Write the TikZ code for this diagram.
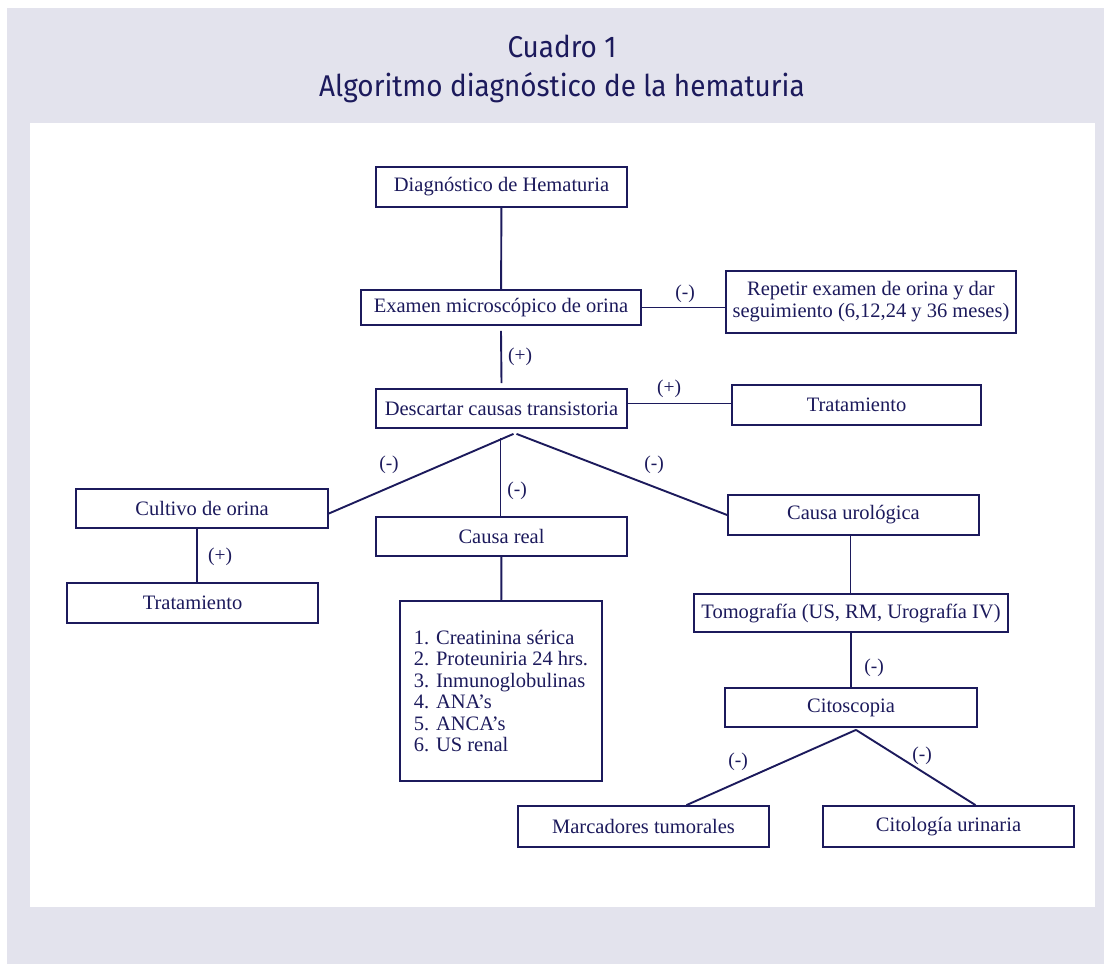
\documentclass[tikz,border=0pt]{standalone}
\usepackage{fontspec}
\setmainfont{Liberation Serif}
\newfontfamily\titlefont[FakeStretch=0.93]{Fira Sans}
\definecolor{navy}{RGB}{28,26,92}
\definecolor{panel}{RGB}{227,227,237}
\begin{document}
\begin{tikzpicture}[x=1pt,y=-1pt,
  box/.style={draw=navy, line width=1.8pt, text=navy, font=\fontsize{20.5}{22}\selectfont, inner sep=0pt, align=center},
  conn/.style={draw=navy, line width=1.9pt},
  lbl/.style={text=navy, font=\fontsize{19.5}{21}\selectfont, inner sep=0pt},
  ttl/.style={text=navy, font=\titlefont\fontsize{30}{34}\selectfont, inner sep=0pt, anchor=base}]
\useasboundingbox (0,0) rectangle (1104,965);
\fill[white] (0,0) rectangle (1104,965);
\fill[panel] (7,8) rectangle (1104,964);
\fill[white] (30,123) rectangle (1095,907);

\node[ttl] (t1) at (562,58) {Cuadro 1};
\node[ttl] (t2) at (562,97) {Algoritmo diagnóstico de la hematuria};

\node[box, minimum width=251, minimum height=40] (diag) at (501.5,187) {Diagnóstico de Hematuria};
\node[box, minimum width=280, minimum height=35] (exam) at (501,307.5) {Examen microscópico de orina};
\node[box, minimum width=290, minimum height=62] (rep) at (871,302) {Repetir examen de orina y dar\\seguimiento (6,12,24 y 36 meses)};
\node[box, minimum width=251, minimum height=39] (desc) at (501.5,408.5) {Descartar causas transistoria};
\node[box, minimum width=249, minimum height=40] (trat1) at (856.5,405) {Tratamiento};
\node[box, minimum width=252, minimum height=39] (cult) at (202,508.5) {Cultivo de orina};
\node[box, minimum width=251, minimum height=39] (real) at (501.5,536.5) {Causa real};
\node[box, minimum width=251, minimum height=40] (trat2) at (192.5,603) {Tratamiento};
\node[box, minimum width=202, minimum height=180, font=\fontsize{20.5}{21.5}\selectfont, align=left] (list) at (501,691) {1. Creatinina sérica\\2. Proteuniria 24 hrs.\\3. Inmunoglobulinas\\4. ANA’s\\5. ANCA’s\\6. US renal};
\node[box, minimum width=251, minimum height=40] (curo) at (853.5,515) {Causa urológica};
\node[box, minimum width=314, minimum height=38] (tomo) at (851,613) {Tomografía (US, RM, Urografía IV)};
\node[box, minimum width=252, minimum height=39] (cito) at (851,707.5) {Citoscopia};
\node[box, minimum width=251, minimum height=41] (marc) at (643.5,826.5) {Marcadores tumorales};
\node[box, minimum width=251, minimum height=41] (citu) at (948.5,826.5) {Citología urinaria};

\draw[conn] (diag) -- (exam);
\draw[conn] (exam.east) -- (exam.east -| rep.west);
\draw[conn] ([yshift=-5pt]exam.south) -- ([yshift=5pt]desc.north);
\draw[conn] ([yshift=5pt]desc.east) -- ([yshift=5pt]desc.east -| trat1.west);
\coordinate (dap) at ([xshift=12pt,yshift=-5pt]desc.south);
\draw[conn] (dap) -- ([yshift=-5pt]cult.east);
\draw[conn] ([xshift=3pt]dap) -- (curo.west);
\draw[conn] ([xshift=-1pt,yshift=-9pt]desc.south) -- ([xshift=-1pt]real.north);
\draw[conn] (real) -- (list);
\draw[conn] ([xshift=-5pt]cult.south) -- ([xshift=-5pt]cult.south |- trat2.north);
\draw[conn] ([xshift=-3pt]curo.south) -- ([xshift=-3pt]curo.south |- tomo.north);
\draw[conn] (tomo) -- (cito);
\coordinate (cap) at ([xshift=5pt,yshift=-2pt]cito.south);
\draw[conn] (cap) -- ([xshift=43pt]marc.north);
\draw[conn] (cap) -- ([xshift=27pt]citu.north);

\node[lbl] (l1) at (685,294) {(-)};
\node[lbl] (l2) at (520,357) {(+)};
\node[lbl] (l3) at (669,389) {(+)};
\node[lbl] (l4) at (389,465) {(-)};
\node[lbl] (l5) at (517,491) {(-)};
\node[lbl] (l6) at (654,465) {(-)};
\node[lbl] (l7) at (220,557) {(+)};
\node[lbl] (l8) at (874,668) {(-)};
\node[lbl] (l9) at (738,762) {(-)};
\node[lbl] (l10) at (922,756) {(-)};
\end{tikzpicture}
\end{document}
